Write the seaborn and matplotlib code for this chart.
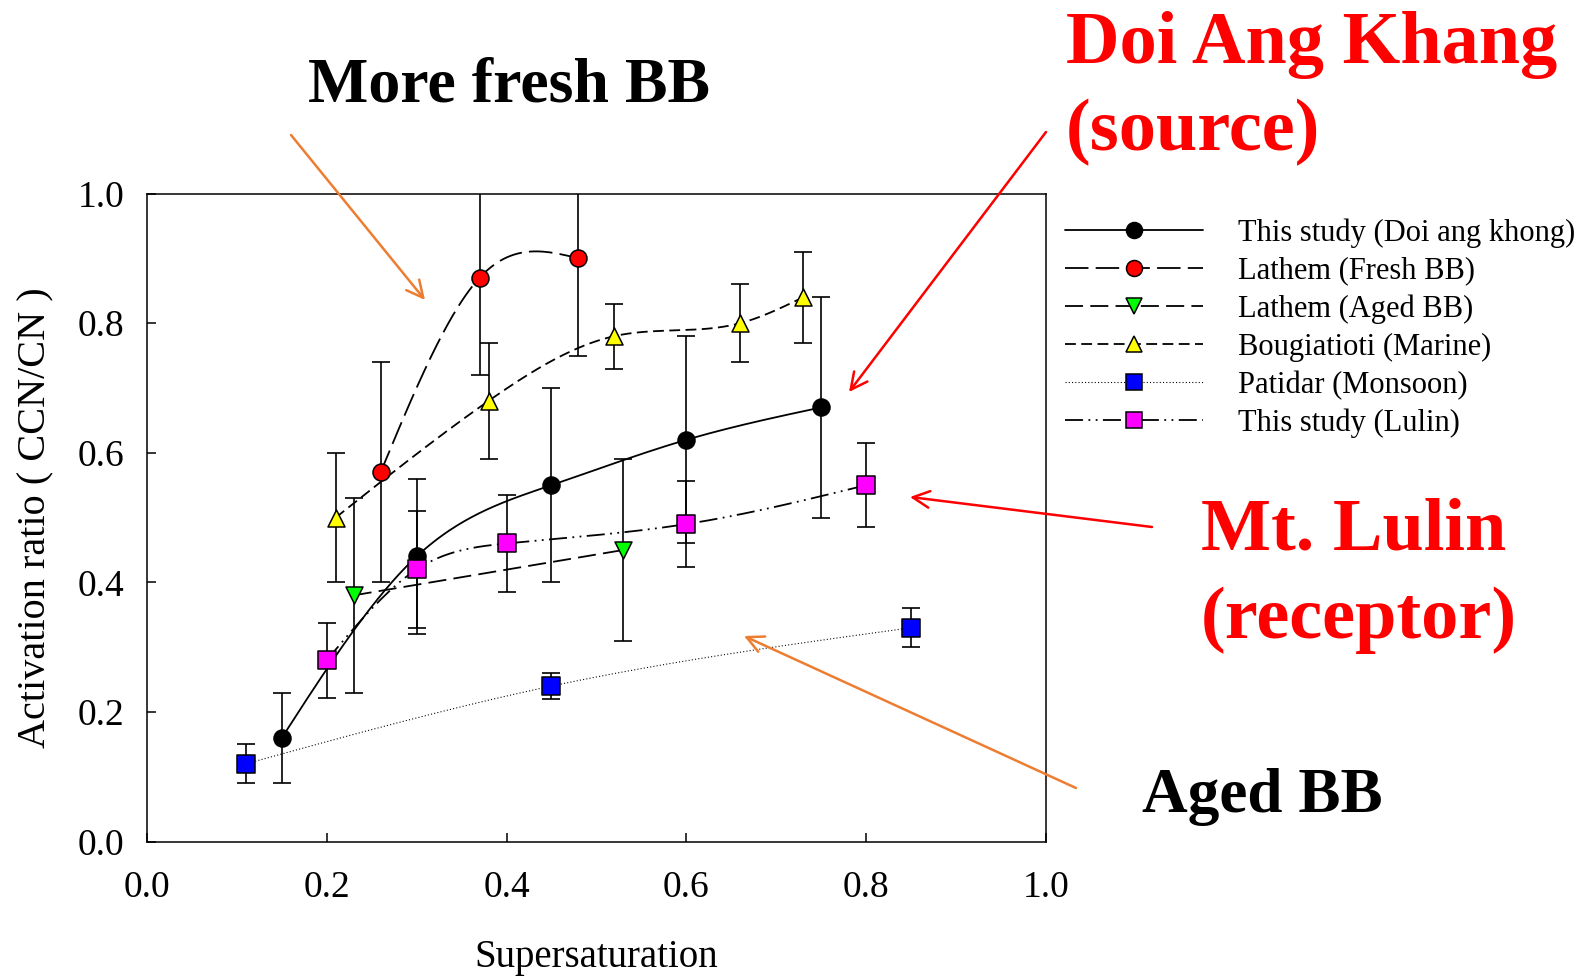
import numpy as np
import pandas as pd
import seaborn as sns
import matplotlib.pyplot as plt
from matplotlib.lines import Line2D

# data
doi_x = [0.15, 0.30, 0.45, 0.60, 0.75]
doi_y = [0.16, 0.44, 0.55, 0.62, 0.67]
doi_err = [0.07, 0.12, 0.15, 0.16, 0.17]

fresh_x = [0.26, 0.37, 0.48]
fresh_y = [0.57, 0.87, 0.90]
fresh_err = [0.17, 0.15, 0.15]

aged_x = [0.23, 0.53]
aged_y = [0.38, 0.45]
aged_err = [0.15, 0.14]

marine_x = [0.21, 0.38, 0.52, 0.66, 0.73]
marine_y = [0.50, 0.68, 0.78, 0.80, 0.84]
marine_err = [0.10, 0.09, 0.05, 0.06, 0.07]

monsoon_x = [0.11, 0.45, 0.85]
monsoon_y = [0.12, 0.24, 0.33]
monsoon_err = [0.03, 0.02, 0.03]

lulin_x = [0.20, 0.30, 0.40, 0.60, 0.80]
lulin_y = [0.28, 0.42, 0.46, 0.49, 0.55]
lulin_err = [0.058, 0.09, 0.075, 0.066, 0.065]

labels = ["This study (Doi ang khong)", "Lathem (Fresh BB)", "Lathem (Aged BB)",
          "Bougiatioti (Marine)", "Patidar (Monsoon)", "This study (Lulin)"]


def smooth(x, y, n=300):
    # natural cubic spline, like the SigmaPlot spline curve
    x = np.asarray(x, float)
    y = np.asarray(y, float)
    m = len(x)
    xs = np.linspace(x[0], x[-1], n)
    if m < 3:
        return xs, np.interp(xs, x, y)
    h = np.diff(x)
    A = np.zeros((m, m))
    b = np.zeros(m)
    A[0, 0] = A[-1, -1] = 1
    for i in range(1, m - 1):
        A[i, i - 1] = h[i - 1]
        A[i, i] = 2 * (h[i - 1] + h[i])
        A[i, i + 1] = h[i]
        b[i] = 3 * ((y[i + 1] - y[i]) / h[i] - (y[i] - y[i - 1]) / h[i - 1])
    c = np.linalg.solve(A, b)
    bc = (y[1:] - y[:-1]) / h - h * (2 * c[:-1] + c[1:]) / 3
    d = (c[1:] - c[:-1]) / (3 * h)
    idx = np.clip(np.searchsorted(x, xs) - 1, 0, m - 2)
    dx = xs - x[idx]
    return xs, y[idx] + bc[idx] * dx + c[idx] * dx ** 2 + d[idx] * dx ** 3


sns.set_style("ticks")
plt.rcParams['font.family'] = ['Liberation Serif', 'DejaVu Serif']
plt.rcParams['text.color'] = 'black'
plt.rcParams['axes.labelcolor'] = 'black'
plt.rcParams['xtick.color'] = 'black'
plt.rcParams['ytick.color'] = 'black'

fig = plt.figure(figsize=(15.88, 9.76), dpi=100)
ax = fig.add_axes([0.0925, 0.1377, 0.5662, 0.664])

series = [
    (doi_x, doi_y, doi_err, 'o', 'black', '-', 1.0),
    (fresh_x, fresh_y, fresh_err, 'o', 'red', (0, (13, 4)), 1.0),
    (aged_x, aged_y, aged_err, 'v', '#00ff00', (0, (10, 4)), 1.0),
    (marine_x, marine_y, marine_err, '^', 'yellow', (0, (6, 3)), 1.0),
    (monsoon_x, monsoon_y, monsoon_err, 's', 'blue', (0, (1, 2)), 0.6),
    (lulin_x, lulin_y, lulin_err, 's', 'magenta', (0, (10, 3, 1, 3, 1, 3)), 1.0),
]

handles = []
for (x, y, e, mk, col, ls, lw), lab in zip(series, labels):
    ax.errorbar(x, y, yerr=e, fmt='none', ecolor='black', elinewidth=1.2,
                capsize=6.5, capthick=1.2, zorder=2)
    xs, ys = smooth(x, y)
    sns.lineplot(x=xs, y=ys, ax=ax, color='black', linestyle=ls, linewidth=lw * 1.3,
                 sort=False, zorder=3)
    sns.scatterplot(x=x, y=y, ax=ax, marker=mk, s=150, color=col,
                    edgecolor='black', linewidth=1.1, zorder=5)
    handles.append(Line2D([], [], color='black', linestyle=ls, linewidth=lw * 1.3,
                          marker=mk, markersize=11.5, markerfacecolor=col,
                          markeredgecolor='black', markeredgewidth=1.1))

ax.set_xlim(0, 1)
ax.set_ylim(0, 1)
ax.set_xticks(np.arange(0, 1.01, 0.2))
ax.set_yticks(np.arange(0, 1.01, 0.2))
ax.set_xticklabels([f"{v:.1f}" for v in np.arange(0, 1.01, 0.2)])
ax.set_yticklabels([f"{v:.1f}" for v in np.arange(0, 1.01, 0.2)])
ax.tick_params(direction='in', length=6.5, width=1.1, labelsize=27,
               top=False, right=False, colors='black')
ax.tick_params(axis='x', pad=21)
ax.tick_params(axis='y', pad=16)
for sp in ax.spines.values():
    sp.set_linewidth(1.1)
    sp.set_color('black')
    sp.set_visible(True)
ax.set_xlabel("Supersaturation", fontsize=28, labelpad=24)
ax.set_ylabel("Activation ratio ( CCN/CN )", fontsize=29, labelpad=17)

fig.legend(handles, labels, loc='upper left', bbox_to_anchor=(1065 / 1588, 1 - 218 / 976),
           frameon=False, fontsize=22, handlelength=4.5, handletextpad=1.15,
           labelspacing=0.29, borderpad=0, borderaxespad=0)

W, H = 1588, 976


def fy(py):
    return 1 - py / H


fig.text(509 / W, fy(102), "More fresh BB", fontsize=46, fontweight='bold',
         ha='center', va='baseline')
fig.text(1066 / W, fy(63), "Doi Ang Khang", fontsize=53.5, fontweight='bold',
         color='red', ha='left', va='baseline')
fig.text(1066 / W, fy(150), "(source)", fontsize=53.5, fontweight='bold',
         color='red', ha='left', va='baseline')
fig.text(1201 / W, fy(550), "Mt. Lulin", fontsize=53.5, fontweight='bold',
         color='red', ha='left', va='baseline')
fig.text(1201 / W, fy(638), "(receptor)", fontsize=53.5, fontweight='bold',
         color='red', ha='left', va='baseline')
fig.text(1142 / W, fy(812), "Aged BB", fontsize=45.5, fontweight='bold',
         ha='left', va='baseline')

arrows = [
    ((291, 135), (425, 300), '#ED7D31'),
    ((1046, 132), (849, 392), 'red'),
    ((1152, 527), (910, 497), 'red'),
    ((1076, 788), (744, 636), '#ED7D31'),
]
for (x0, y0), (x1, y1), col in arrows:
    ax.annotate("", xy=(x1 / W, fy(y1)), xytext=(x0 / W, fy(y0)),
                xycoords='figure fraction', textcoords='figure fraction',
                arrowprops=dict(arrowstyle='->,head_length=1.2,head_width=0.6',
                                color=col, lw=1.8, shrinkA=0, shrinkB=0),
                annotation_clip=False)

fig.savefig("out.png", dpi=100)
